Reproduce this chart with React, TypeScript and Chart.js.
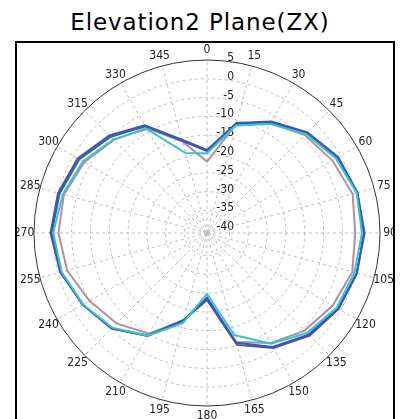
import React, { useEffect, useRef } from 'react';
import { Chart, registerables } from 'chart.js';

Chart.register(...registerables);

const TITLE = 'Elevation2 Plane(ZX)';
const ANGLE_LABELS = ['0', '15', '30', '45', '60', '75', '90', '105', '120', '135', '150', '165', '180', '195', '210', '225', '240', '255', '270', '285', '300', '315', '330', '345'];
const RADIAL_TICKS = [-40, -35, -30, -25, -20, -15, -10, -5, 0, 5];
const R_MIN = -41;
const R_MAX = 5;

const SERIES_NAMES = ['Cyan', 'Blue', 'Purple', 'Mauve'];
const CYAN = [-19.8, -11.4, -7.5, -3.8, -1.4, 0.2, 0.2, -0.4, -1.2, -3.4, -7.0, -12.9, -24.8, -16.2, -9.5, -5.4, -3.0, -1.0, -0.1, -1.3, -2.9, -5.8, -9.1, -19.0];
const BLUE = [-19.2, -10.9, -6.9, -3.4, -0.9, 0.4, 0.9, 0.2, -0.8, -2.8, -6.0, -10.8, -23.8, -16.8, -9.4, -5.2, -2.8, -0.8, 0.3, -0.4, -1.8, -4.8, -8.2, -15.6];
const PURPLE = [-18.9, -10.7, -6.8, -3.2, -0.7, 0.4, 0.7, 0.3, -0.6, -2.4, -5.7, -10.2, -23.2, -17.1, -9.5, -5.1, -2.9, -0.6, 0.6, 0.0, -1.3, -4.3, -7.9, -15.3];
const MAUVE = [-22.0, -11.0, -7.3, -4.2, -2.5, -0.9, -1.6, -1.0, -2.4, -4.3, -7.2, -11.0, -23.5, -17.0, -10.1, -7.0, -4.9, -2.5, -1.5, -1.6, -3.3, -6.0, -8.8, -15.8];
const SERIES_VALUES = [CYAN, BLUE, PURPLE, MAUVE];
const SERIES_COLORS = ['#38c4cc', '#2f5cbc', '#5a4a9e', '#b38f9e'];

const LABEL_FONT = '12px "Liberation Sans Narrow", "DejaVu Sans Condensed", "Liberation Sans", Arial, sans-serif';

const polarLabels = {
  id: 'polarLabels',
  beforeDatasetsDraw(chart: any) {
    const s = chart.scales.r;
    const ctx = chart.ctx;
    ctx.save();
    ctx.font = LABEL_FONT;
    ctx.fillStyle = '#222';
    ctx.textAlign = 'right';
    ctx.textBaseline = 'alphabetic';
    s.ticks.forEach((t: any) => {
      const y = s.yCenter - s.getDistanceFromCenterForValue(t.value) + 1;
      ctx.fillText(String(t.value), s.xCenter + 27, y);
    });
    ctx.textAlign = 'center';
    ctx.textBaseline = 'middle';
    (chart.data.labels as string[]).forEach((lab, i) => {
      const p = s.getPointPosition(i, s.drawingArea + 10);
      ctx.fillText(lab, p.x, p.y);
    });
    ctx.restore();
  },
};

function PolarChart() {
  const ref = useRef<HTMLCanvasElement | null>(null);
  useEffect(() => {
    if (!ref.current) return;
    const chart = new Chart(ref.current, {
      type: 'radar',
      data: {
        labels: ANGLE_LABELS,
        datasets: SERIES_VALUES.map((vals, i) => ({
          label: SERIES_NAMES[i],
          data: vals,
          borderColor: SERIES_COLORS[i],
          backgroundColor: SERIES_COLORS[i],
          borderWidth: 2,
          pointRadius: 0,
          fill: false,
          tension: 0,
        })),
      },
      options: {
        animation: false,
        responsive: false,
        maintainAspectRatio: false,
        layout: { padding: 27 },
        plugins: { legend: { display: false }, tooltip: { enabled: false }, title: { display: false } },
        scales: {
          r: {
            min: R_MIN,
            max: R_MAX,
            afterBuildTicks: (scale: any) => {
              scale.ticks = RADIAL_TICKS.map((v) => ({ value: v }));
            },
            ticks: { display: false },
            pointLabels: { display: false },
            grid: {
              circular: true,
              color: (c: any) => (c.tick && c.tick.value === R_MAX ? '#333333' : '#bdbdbd'),
              lineWidth: 1,
            },
            border: {
              dash: (c: any) => (c.tick && c.tick.value === R_MAX ? [] : [3, 3]),
            } as any,
            angleLines: {
              display: true,
              color: '#bdbdbd',
              lineWidth: 1,
              borderDash: [3, 3],
            },
          },
        },
      },
      plugins: [polarLabels],
    } as any);
    return () => chart.destroy();
  }, []);
  return (
    <canvas
      ref={ref}
      width={400}
      height={400}
      style={{ position: 'absolute', left: -10, top: -10, width: 400, height: 400 }}
    />
  );
}

export default function App() {
  return (
    <div style={{ position: 'absolute', left: 0, top: 0, width: 400, height: 419, overflow: 'hidden', background: '#fff' }}>
      <div
        style={{
          position: 'absolute',
          left: 0,
          top: 11,
          width: 400,
          textAlign: 'center',
          font: '23px "DejaVu Sans", sans-serif',
          lineHeight: '23px',
          letterSpacing: '0.9px',
          color: '#000',
        }}
      >
        {TITLE}
      </div>
      <div
        style={{
          position: 'absolute',
          left: 15,
          top: 41,
          width: 380,
          height: 400,
          border: '2px solid #000',
          boxSizing: 'border-box',
          overflow: 'hidden',
          background: '#fff',
        }}
      >
        <PolarChart />
      </div>
    </div>
  );
}
